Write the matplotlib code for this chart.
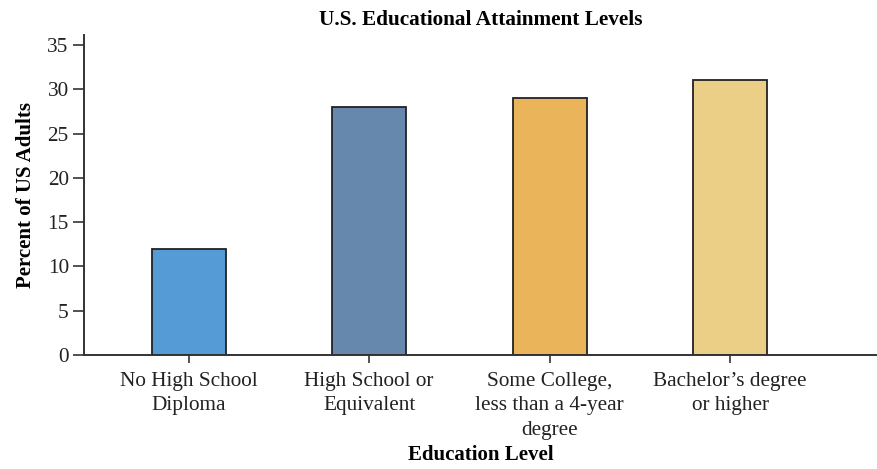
import matplotlib.pyplot as plt

categories = [
    "No High School\nDiploma",
    "High School or\nEquivalent",
    "Some College,\nless than a 4-year\ndegree",
    "Bachelor\u2019s degree\nor higher",
]
percent = [12, 28, 29, 31]
bar_colors = ["#559bd6", "#6788ad", "#e9b45a", "#ebcf87"]
y_ticks = [0, 5, 10, 15, 20, 25, 30, 35]

plt.rcParams["font.family"] = ["Liberation Serif", "DejaVu Serif"]

fig = plt.figure(figsize=(8.78, 4.69), dpi=100)
ax = fig.add_axes([0.0957, 0.243, 0.9043, 0.682])

x = list(range(len(categories)))
ax.bar(x, percent, width=0.41, color=bar_colors, edgecolor="#222222", linewidth=1.3)

ax.set_xlim(-0.58, 3.82)
ax.set_ylim(0, 36.1)
ax.set_yticks(y_ticks)
ax.set_xticks(x)
ax.set_xticklabels(categories, fontsize=15.3, color="#222222", linespacing=1.4)
ax.tick_params(axis="y", labelsize=15.3, labelcolor="#222222", length=8, width=1.2,
               color="#333333", pad=3)
ax.tick_params(axis="x", length=6, width=1.2, color="#333333", pad=6)

for side in ["top", "right"]:
    ax.spines[side].set_visible(False)
for side in ["left", "bottom"]:
    ax.spines[side].set_color("#333333")
    ax.spines[side].set_linewidth(1.4)

ax.set_title("U.S. Educational Attainment Levels", fontsize=15.3, fontweight="bold",
             pad=7)
ax.set_ylabel("Percent of US Adults", fontsize=15, fontweight="bold", labelpad=8)
ax.set_xlabel("Education Level", fontsize=15, fontweight="bold", labelpad=4)

fig.savefig("out.png", dpi=100)
